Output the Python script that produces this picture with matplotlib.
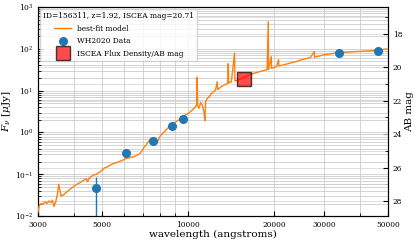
import matplotlib
matplotlib.use("Agg")
import matplotlib.pyplot as plt
from matplotlib.ticker import FixedLocator, NullFormatter, MultipleLocator

plt.rcParams['font.family'] = 'DejaVu Serif'
plt.rcParams['mathtext.fontset'] = 'dejavuserif'

# best-fit model spectrum (angstrom, uJy)
model_wl = [3000, 3030, 3080, 3120, 3170, 3220, 3270, 3320, 3370, 3410, 3460, 3510,
            3545, 3580, 3610, 3680, 3750, 3850, 3950, 4050, 4150, 4250, 4350, 4420,
            4470, 4520, 4620, 4720, 4800, 4880, 4950, 5050, 5150, 5250, 5350, 5450,
            5550, 5650, 5750, 5850, 5950, 6050, 6150, 6250, 6350, 6450, 6550, 6650,
            6750, 6850, 6950, 7035, 7150, 7250, 7350, 7450, 7550, 7650, 7750, 7850,
            7950, 8100, 8250, 8400, 8550, 8700, 8850, 9000, 9200, 9400, 9600, 9800,
            10000, 10200, 10400, 10600, 10750, 10790, 10830, 10950, 11100, 11250,
            11400, 11480, 11550, 11700, 11900, 12100, 12300, 12500, 12676, 12720,
            12900, 13100, 13400, 13800, 13851, 13900, 14200, 14570, 14620, 15000,
            15500, 16000, 16530, 17000, 17500, 18000, 18500, 18930, 19110, 19150,
            19570, 19620, 20000, 20440, 20760, 20800, 21500, 22780, 24090, 25000,
            26790, 27690, 27740, 29900, 31500, 33660, 38000, 42000, 46000, 50000]
model_flux = [0.0125, 0.018, 0.020, 0.019, 0.022, 0.020, 0.023, 0.021, 0.024, 0.017,
              0.022, 0.035, 0.058, 0.040, 0.030, 0.032, 0.036, 0.042, 0.048, 0.055,
              0.060, 0.066, 0.074, 0.078, 0.066, 0.080, 0.090, 0.098, 0.10, 0.11,
              0.115, 0.13, 0.145, 0.15, 0.165, 0.175, 0.185, 0.19, 0.20, 0.21, 0.22,
              0.235, 0.24, 0.25, 0.255, 0.26, 0.27, 0.29, 0.30, 0.33, 0.38, 0.44,
              0.50, 0.58, 0.65, 0.72, 0.68, 0.62, 0.52, 0.60, 0.75, 0.9, 1.0, 1.15,
              1.3, 1.4, 1.5, 1.7, 1.9, 2.1, 2.4, 2.6, 2.8, 3.1, 3.5, 4.0, 4.6, 21.0,
              4.4, 3.8, 5.2, 4.5, 3.0, 1.9, 5.5, 6.5, 7.3, 8.5, 9.5, 10.3, 16.4, 10.6,
              11.5, 12.5, 13.5, 15.0, 44.0, 15.3, 16.2, 79.0, 17.0, 18.0, 20.0, 22.0,
              24.0, 26.0, 27.5, 29.0, 30.5, 31.6, 447.0, 32.0, 65.0, 34.0, 36.0, 38.0,
              55.0, 39.0, 41.0, 45.6, 50.0, 55.0, 62.0, 86.0, 63.0, 72.0, 76.0, 81.0,
              85.0, 88.0, 92.0, 100.0]

# WH2020 photometry
data_wl = [4786, 6093, 7570, 8847, 9617, 33660, 46080]
data_flux = [0.047, 0.33, 0.62, 1.44, 2.15, 81.7, 91.0]
data_err = [0.038, 0.02, 0.03, 0.05, 0.08, 2.0, 3.0]

# ISCEA point
iscea_wl = [15660]
iscea_mag = 20.71
iscea_flux = [10 ** ((23.9 - iscea_mag) / 2.5)]

xticks = [3000, 5000, 10000, 20000, 30000, 50000]
xminor = [4000, 6000, 7000, 8000, 9000, 40000]

fig = plt.figure(figsize=(4.15, 2.42), dpi=100)
ax = fig.add_axes([0.0916, 0.107, 0.843, 0.864])

l1, = ax.plot(model_wl, model_flux, color='C1', lw=1.0, label='best-fit model', zorder=3)
ax.errorbar(data_wl, data_flux, yerr=data_err, fmt='none', ecolor='C0',
            elinewidth=1, zorder=4)
l2, = ax.plot(data_wl, data_flux, 'o', color='C0', ms=5.5, label='WH2020 Data', zorder=4)
l3, = ax.plot(iscea_wl, iscea_flux, 's', color='red', alpha=0.7, mec='k', ms=10,
              label='ISCEA Flux Density/AB mag', zorder=5)

ax.set_xscale('log')
ax.set_yscale('log')
ax.set_xlim(3000, 50000)
ax.set_ylim(1e-2, 1e3)
ax.xaxis.set_major_locator(FixedLocator(xticks))
ax.set_xticklabels([str(t) for t in xticks])
ax.xaxis.set_minor_locator(FixedLocator(xminor))
ax.xaxis.set_minor_formatter(NullFormatter())
ax.tick_params(which='both', direction='in', labelsize=5.3)
ax.grid(which='both', color='0.8', lw=0.6)
ax.set_xlabel('wavelength (angstroms)', fontsize=7.5, labelpad=1)
ax.set_ylabel(r'$F_\nu$ [$\mu$Jy]', fontsize=7.5, labelpad=1)

ax2 = ax.twinx()
ax2.set_ylim(23.9 - 2.5 * (-2), 23.9 - 2.5 * 3)
ax2.yaxis.set_major_locator(MultipleLocator(2))
ax2.yaxis.set_minor_locator(MultipleLocator(1))
ax2.tick_params(which='both', direction='in', labelsize=5.3)
ax2.grid(which='both', color='0.85', lw=0.6)
ax2.set_ylabel('AB mag', fontsize=7.5, labelpad=2)
ax.set_zorder(ax2.get_zorder() + 1)
ax.patch.set_visible(False)

leg = ax.legend(handles=[l1, l2, l3], loc='upper left',
                title='ID=156311, z=1.92, ISCEA mag=20.71',
                fontsize=5.4, title_fontsize=5.4, borderaxespad=0.3,
                handlelength=2.2, labelspacing=0.6, fancybox=False)
leg.get_frame().set_edgecolor('0.8')

fig.savefig('out.png', dpi=100)
